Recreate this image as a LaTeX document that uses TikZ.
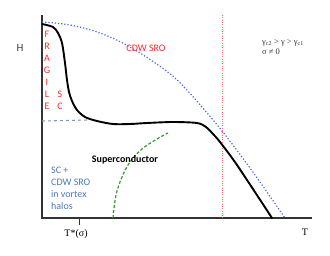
\documentclass[tikz,border=0pt]{standalone}
\usepackage{fontspec}
\setmainfont{Carlito}
\newfontfamily\serifrm{Liberation Serif}
\usepackage{tikz}
\usetikzlibrary{arrows.meta}

\definecolor{sroRed}{HTML}{F42A2A}
\definecolor{limitRed}{HTML}{F47070}
\definecolor{haloBlue}{HTML}{4A78C0}
\definecolor{cdwBlue}{HTML}{4A62E0}
\definecolor{onsetGreen}{HTML}{2E9A2E}
\definecolor{pinGray}{HTML}{8498B0}

\begin{document}
\begin{tikzpicture}[x=1pt, y=-1pt, >=Stealth, font=\fontsize{10}{12}\selectfont,
    axis/.style={line width=1.3pt, black!80},
    hc2/.style={line width=1.9pt, line cap=round},
    label/.style={inner sep=0pt}]
    \useasboundingbox (0,0) rectangle (330,255);
    % axes
    \draw[axis] (42,15) -- (42,218) -- (312,218);
    \draw[axis, line width=1pt] (79,218) -- (79,225);
    \node[label, black!75, font=\fontsize{11}{12}\selectfont] (H) at (20,48) {H};
    \node[label, font=\serifrm\fontsize{10}{12}\selectfont] (T) at (305,232) {T};
    \node[label, font=\serifrm\fontsize{10}{12}\selectfont] (Tstar) at (76,234) {T*(σ)};
    % boundaries
    \draw[limitRed, dash pattern=on 1pt off 1.3pt, line width=1pt] (222.5,15) -- (222.5,218);
    \draw[cdwBlue, dotted, line width=1.2pt] plot[smooth, tension=0.6] coordinates
        {(42,22) (70,25) (100,33) (130,47) (165,70) (185,88) (218,126) (250,168) (285,218)};
    \draw[pinGray, dashed, line width=1.1pt] (42,121) -- (88,120);
    \draw[hc2] plot[smooth, tension=0.5] coordinates
        {(42,24) (53,27) (58,33) (62,43) (65,63) (67,80) (69,92) (72,101) (77,110) (85,117) (97,121)
         (113,124) (130,124) (147,123) (173,122) (197,123) (206,127) (213,134) (220,142)
         (237,165) (272,218)};
    \draw[onsetGreen, dash pattern=on 3pt off 2pt, line width=1.2pt] plot[smooth, tension=0.6] coordinates
        {(113,218) (116,195) (122,177) (130,162) (142,149) (157,139) (168,133)};
    % labels
    \foreach \l [count=\i] in {F,R,A,G,I,L,E}
        \node[label, sroRed] (frag\i) at (47,22+12*\i) {\l};
    \node[label, sroRed] (fragS) at (60,94) {S};
    \node[label, sroRed] (fragC) at (60,106) {C};
    \node[label, sroRed] (cdw) at (146,48) {CDW SRO};
    \node[label, font=\bfseries] (sc) at (125,160) {Superconductor};
    \node[label, haloBlue, align=left, anchor=west] (halo) at (51,188) {SC +\\CDW SRO\\in vortex\\halos};
    \node[label, anchor=west, black!80, font=\serifrm\fontsize{8.5}{10.5}\selectfont, align=left] (gam) at (262,47)
        {γ\textsubscript{c2} > γ > γ\textsubscript{c1}\\σ ≠ 0};
\end{tikzpicture}
\end{document}
